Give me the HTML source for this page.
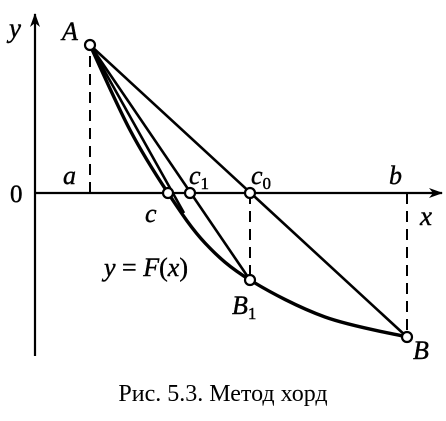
<!DOCTYPE html>
<html><head><meta charset="utf-8"><style>
html,body{margin:0;padding:0;background:#fff;}
svg{display:block}
text{font-family:"Liberation Serif",serif;fill:#000}
.lb{stroke:#000;stroke-width:0.4}
</style></head><body>
<svg id="chart" width="446" height="421" viewBox="0 0 446 421" xmlns="http://www.w3.org/2000/svg">
<defs><marker id="arr" markerWidth="14" markerHeight="10" refX="13" refY="5" orient="auto" markerUnits="userSpaceOnUse"><path d="M0,0 L14,5 L0,10 L4,5 Z" fill="#000"/></marker></defs>
<line x1="35" y1="356" x2="35" y2="14" stroke="#000" stroke-width="2.2" marker-end="url(#arr)"/>
<line x1="35" y1="193" x2="442" y2="193" stroke="#000" stroke-width="2.2" marker-end="url(#arr)"/>
<g id="marks"></g>
<g class="lb">
<text x="9" y="37" font-size="27" font-style="italic">y</text>
<text x="420" y="225" font-size="27" font-style="italic">x</text>
<text x="10" y="202" font-size="25">0</text>
<text x="62" y="40" font-size="26" font-style="italic">A</text>
<text x="63" y="184" font-size="26" font-style="italic">a</text>
<text x="389" y="184" font-size="26" font-style="italic">b</text>
<text x="145" y="222" font-size="26" font-style="italic">c</text>
<text x="189" y="184" font-size="26" font-style="italic">c<tspan font-size="17" font-style="normal" dy="5">1</tspan></text>
<text x="251" y="184" font-size="26" font-style="italic">c<tspan font-size="17" font-style="normal" dy="5">0</tspan></text>
<text x="104" y="276" font-size="26"><tspan font-style="italic">y</tspan> = <tspan font-style="italic">F</tspan>(<tspan font-style="italic">x</tspan>)</text>
<text x="232" y="314" font-size="26" font-style="italic">B<tspan font-size="17" font-style="normal" dy="5">1</tspan></text>
<text x="413" y="359" font-size="26" font-style="italic">B</text>
</g>
<text x="223" y="401" font-size="24" text-anchor="middle">Рис. 5.3. Метод хорд</text>
</svg>
<script>
// data units: x along axis from origin, y up from x-axis
const curveX=[55,95,133,170,215,290,372];
const curveY=[148,63,0,-50,-87,-124,-144];
const pointNames=["A","c","c1","c0","B1","B"];
const pointX=[55,133,155,215,215,372];
const pointY=[148,0,0,0,-87,-144];
const chordToX=[372,215,149];
const chordToY=[-144,-87,-20];
const dashedX=[55,215,372];
const dashedY=[148,-87,-144];
const ox=35, oy=193;
const sx=v=>ox+v, sy=v=>oy-v;
const g=document.getElementById('marks');
const NS="http://www.w3.org/2000/svg";
function mk(t,a){const e=document.createElementNS(NS,t);for(const k in a)e.setAttribute(k,a[k]);g.appendChild(e);return e;}
dashedX.forEach((x,i)=>{
 const e=mk('line',{x1:sx(x),y1:sy(0),x2:sx(x),y2:sy(dashedY[i]),stroke:'#000','stroke-width':2,'stroke-dasharray':'11,7'});
 
 
});
let pts=curveX.map((x,i)=>[sx(x),sy(curveY[i])]);
let d='M'+pts[0][0]+','+pts[0][1];
for(let i=0;i<pts.length-1;i++){
 const p0=pts[Math.max(0,i-1)],p1=pts[i],p2=pts[i+1],p3=pts[Math.min(pts.length-1,i+2)];
 d+=` C${p1[0]+(p2[0]-p0[0])/6},${p1[1]+(p2[1]-p0[1])/6} ${p2[0]-(p3[0]-p1[0])/6},${p2[1]-(p3[1]-p1[1])/6} ${p2[0]},${p2[1]}`;
}
const cv=mk('path',{d:d,fill:'none',stroke:'#000','stroke-width':3.4});


const A=[sx(pointX[0]),sy(pointY[0])];
chordToX.forEach((x,i)=>{
 const e=mk('line',{x1:A[0],y1:A[1],x2:sx(x),y2:sy(chordToY[i]),stroke:'#000','stroke-width':2.6});
 
 
});
pointX.forEach((x,i)=>{
 const e=mk('circle',{cx:sx(x),cy:sy(pointY[i]),r:5,fill:'#fff',stroke:'#000','stroke-width':2.2});
 
 
});
</script>
</body></html>
